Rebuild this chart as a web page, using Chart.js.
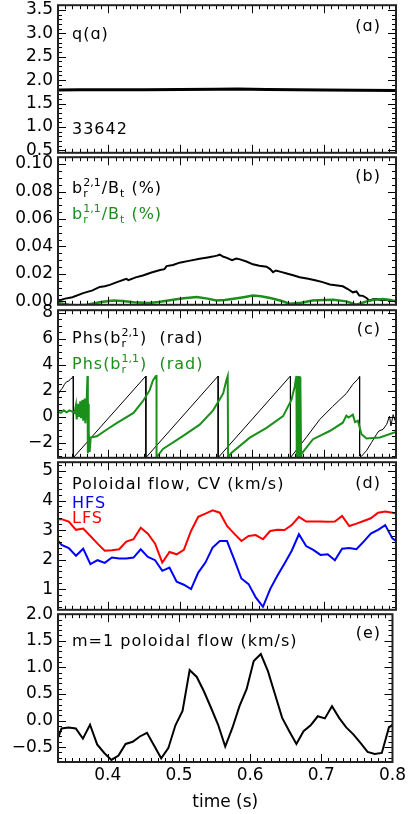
<!DOCTYPE html>
<html>
<head>
<meta charset="utf-8">
<script src="https://cdn.jsdelivr.net/npm/chart.js@4.4.0/dist/chart.umd.min.js"></script>
<style>
  html, body { margin: 0; padding: 0; background: #fff; }
  #wrap { position: relative; width: 409px; height: 814px; overflow: hidden; }
  #wrap canvas { position: absolute; left: 0; }
</style>
</head>
<body>
<div id="wrap">
  <canvas id="panel-a" width="409" height="178" style="top:-10px"></canvas>
  <canvas id="panel-b" width="409" height="178" style="top:142px"></canvas>
  <canvas id="panel-c" width="409" height="178" style="top:295px"></canvas>
  <canvas id="panel-d" width="409" height="178" style="top:447px"></canvas>
  <canvas id="panel-e" width="409" height="215" style="top:599px"></canvas>
</div>
<script>
// shared time axis
const T_MIN = 0.33;
const T_MAX = 0.8;
const timeTicks = [0.4, 0.5, 0.6, 0.7, 0.8];

// (a) edge safety factor
const qTime = [0.33, 0.36, 0.40, 0.45, 0.50, 0.55, 0.58, 0.62, 0.66, 0.70, 0.75, 0.80];
const qVal  = [1.79, 1.795, 1.795, 1.795, 1.80, 1.805, 1.81, 1.80, 1.795, 1.79, 1.785, 1.78];
const aTicks = [0.5, 1.0, 1.5, 2.0, 2.5, 3.0, 3.5];

// (b) mode amplitudes
const b21Time = [
  0.330, 0.335, 0.340, 0.350, 0.365, 0.378, 0.388, 0.395, 0.402, 0.412,
  0.425, 0.428, 0.438, 0.448, 0.460, 0.472, 0.478, 0.481, 0.490, 0.499,
  0.512, 0.527, 0.538, 0.545, 0.551, 0.555, 0.560, 0.564, 0.572, 0.578,
  0.583, 0.592, 0.601, 0.610, 0.620, 0.625, 0.629, 0.633, 0.640, 0.648,
  0.657, 0.666, 0.678, 0.689, 0.698, 0.708, 0.716, 0.726, 0.733, 0.740,
  0.745, 0.749, 0.754, 0.759, 0.763, 0.768, 0.773, 0.779, 0.786, 0.793,
  0.800];
const b21Val = [
  0.0010, 0.0012, 0.0020, 0.0030, 0.0060, 0.0080, 0.0105, 0.0110, 0.0120, 0.0140,
  0.0164, 0.0155, 0.0175, 0.0189, 0.0210, 0.0228, 0.0235, 0.0257, 0.0265, 0.0282,
  0.0295, 0.0311, 0.0320, 0.0326, 0.0333, 0.0340, 0.0325, 0.0319, 0.0300, 0.0312,
  0.0306, 0.0290, 0.0270, 0.0260, 0.0252, 0.0235, 0.0213, 0.0225, 0.0215, 0.0203,
  0.0190, 0.0176, 0.0165, 0.0152, 0.0140, 0.0123, 0.0118, 0.0110, 0.0090, 0.0066,
  0.0072, 0.0042, 0.0040, 0.0025, 0.0005, 0.0015, 0.0017, 0.0008, 0.0012, 0.0005,
  0.0000];
const b11Time = [
  0.330, 0.345, 0.356, 0.370, 0.390, 0.407, 0.420, 0.435, 0.456, 0.470,
  0.490, 0.505, 0.523, 0.538, 0.550, 0.562, 0.572, 0.588, 0.601, 0.612,
  0.625, 0.640, 0.652, 0.668, 0.684, 0.700, 0.713, 0.731, 0.745, 0.759,
  0.770, 0.782, 0.792, 0.800];
const b11Val = [
  -0.0012, -0.0025, -0.0030, -0.0025, -0.0005, 0.0007, 0.0003, -0.0007, -0.0012, -0.0005,
  0.0012, 0.0022, 0.0032, 0.0020, 0.0007, 0.0010, 0.0017, 0.0030, 0.0042, 0.0038,
  0.0025, 0.0005, -0.0017, -0.0010, 0.0007, 0.0010, 0.0012, 0.0000, -0.0025, 0.0000,
  0.0012, 0.0017, 0.0010, 0.0000];
const bTicks = [0.00, 0.02, 0.04, 0.06, 0.08, 0.10];

// (c) mode phases
const phs21Time = [
  0.330, 0.333, 0.336, 0.339, 0.342, 0.345, 0.348, 0.3505, 0.3513, 0.3513,
  0.4522, 0.4522, 0.5527, 0.5527, 0.6532, 0.6532, 0.675, 0.694, 0.712, 0.731,
  0.740, 0.747, 0.7494, 0.7494, 0.752, 0.759, 0.766, 0.773, 0.776, 0.782,
  0.787, 0.791, 0.793, 0.796, 0.800];
const phs21Val = [
  1.7, 2.0, 2.2, 2.5, 2.7, 2.75, 2.95, 3.0, 3.14, -3.14,
  3.14, -3.14, 3.14, -3.14, 3.14, -3.14, -1.6, -0.2, 0.8, 1.8,
  2.5, 2.9, 3.1, -3.0, -3.03, -2.6, -1.97, -1.34, -1.1, -0.96,
  -0.58, 0.05, -0.7, 0.17, -0.5];
const phs11Time = [
  0.330, 0.334, 0.338, 0.342, 0.346, 0.350, 0.353, 0.355, 0.356, 0.358,
  0.359, 0.361, 0.362, 0.364, 0.365, 0.367, 0.368, 0.370, 0.371, 0.3715,
  0.372, 0.3725, 0.373, 0.374, 0.3755, 0.384, 0.400, 0.411, 0.435, 0.448,
  0.4575, 0.462, 0.466, 0.467, 0.467, 0.4717, 0.476, 0.504, 0.527, 0.5457,
  0.5597, 0.564, 0.566, 0.5665, 0.571, 0.5967, 0.620, 0.643, 0.6546, 0.659,
  0.6615, 0.662, 0.663, 0.664, 0.665, 0.666, 0.667, 0.668, 0.6685, 0.6846,
  0.7078, 0.726, 0.731, 0.734, 0.740, 0.743, 0.747, 0.752, 0.759, 0.7775,
  0.800];
const phs11Val = [
  0.4, 0.3, 0.5, 0.35, 0.5, 0.4, 0.3, 0.9, -0.2, 1.0,
  0.0, 1.2, -0.1, 1.3, -0.3, 1.4, -0.5, 1.5, 3.14, -2.8,
  1.0, -2.6, -1.2, -2.7, -1.6, -1.5, -0.9, -0.5, 0.3, 1.2,
  2.05, 2.8, 3.13, 3.14, -3.14, -2.78, -2.47, -1.46, -0.6, 0.5,
  1.8, 2.8, 3.14, -3.14, -2.78, -1.6, -0.85, 0.05, 1.3, 2.3,
  3.14, -3.1, 3.1, -3.14, 3.14, -3.14, 3.1, -3.14, -2.85, -1.72,
  -1.09, -0.45, 0.1, -0.05, 0.17, -0.4, -0.3, -1.34, -1.66, -1.59,
  -1.16];
const cTicks = [-2, 0, 2, 4, 6, 8];

// (d) and (e) CV flow samples
const flowTime = [
  0.330, 0.335, 0.345, 0.355, 0.365, 0.375, 0.385, 0.395, 0.405, 0.415,
  0.425, 0.435, 0.445, 0.455, 0.465, 0.475, 0.485, 0.495, 0.505, 0.515,
  0.525, 0.535, 0.545, 0.555, 0.565, 0.575, 0.585, 0.595, 0.605, 0.615,
  0.625, 0.635, 0.645, 0.655, 0.665, 0.675, 0.685, 0.695, 0.705, 0.715,
  0.725, 0.735, 0.745, 0.755, 0.765, 0.775, 0.785, 0.795, 0.800];
const hfsFlow = [
  2.64, 2.50, 2.39, 2.13, 2.37, 1.85, 1.98, 1.89, 2.07, 2.04,
  2.04, 2.07, 2.35, 2.09, 1.98, 1.62, 1.73, 1.25, 1.15, 1.00,
  1.56, 1.90, 2.41, 2.63, 2.63, 2.01, 1.36, 1.17, 0.72, 0.40,
  1.00, 1.45, 1.87, 2.30, 2.86, 2.46, 2.33, 2.16, 2.18, 1.98,
  2.37, 2.39, 2.35, 2.61, 2.88, 3.01, 3.17, 2.72, 2.63];
const lfsFlow = [
  3.37, 3.37, 3.29, 3.01, 3.05, 2.80, 2.54, 2.30, 2.32, 2.35,
  2.61, 2.69, 3.08, 2.88, 2.54, 1.90, 2.26, 2.18, 2.33, 2.97,
  3.45, 3.56, 3.67, 3.59, 3.14, 2.88, 2.63, 2.80, 2.83, 2.69,
  2.97, 3.01, 3.00, 3.17, 3.45, 3.29, 3.29, 3.29, 3.28, 3.29,
  3.48, 3.14, 3.22, 3.31, 3.40, 3.59, 3.63, 3.59, 3.56];
const m1Flow = [
  -0.33, -0.15, -0.13, -0.15, -0.34, -0.08, -0.45, -0.61, -0.74, -0.66,
  -0.44, -0.40, -0.30, -0.23, -0.47, -0.71, -0.52, -0.09, 0.18, 0.95,
  0.82, 0.55, 0.24, -0.08, -0.49, -0.14, 0.27, 0.59, 1.12, 1.25,
  0.93, 0.49, 0.05, -0.20, -0.44, -0.20, -0.09, 0.08, 0.04, 0.27,
  0.05, -0.13, -0.26, -0.42, -0.59, -0.63, -0.61, -0.13, -0.08];
const dTicks = [1, 2, 3, 4, 5];
const eTicks = [-0.5, 0.0, 0.5, 1.0, 1.5, 2.0];

const GREEN = "#1a8f1a";
const FONT = "'DejaVu Sans', sans-serif";

Chart.defaults.font.family = FONT;
Chart.defaults.color = "#000";

const pairs = (xs, ys) => xs.map((x, i) => ({ x: x, y: ys[i] }));
const minus = (s) => s.replace("-", "\u2212");

// per-panel extras used by the frame plugin (text + minor ticks)
const panelSpecs = {};

// draws text with stacked super/subscripts, IDL style
function drawRich(ctx, x, y, parts, color) {
	ctx.fillStyle = color;
	ctx.textBaseline = "alphabetic";
	ctx.textAlign = "left";
	let cx = x;
	parts.forEach((p) => {
		if (typeof p === "string") {
			ctx.font = "16px " + FONT;
			ctx.letterSpacing = "1px";
			ctx.fillText(p, cx, y);
			cx += ctx.measureText(p).width;
		} else {
			ctx.font = "11px " + FONT;
			ctx.letterSpacing = "0px";
			let w = 0;
			if (p.sup) {
				ctx.fillText(p.sup, cx, y - 7);
				w = Math.max(w, ctx.measureText(p.sup).width);
			}
			if (p.sub) {
				ctx.fillText(p.sub, cx, y + 4);
				w = Math.max(w, ctx.measureText(p.sub).width);
			}
			cx += w + 1;
		}
	});
	ctx.letterSpacing = "0px";
}

const idlFrame = {
	id: "idlFrame",
	afterDraw(chart) {
		const spec = panelSpecs[chart.canvas.id];
		if (!spec) return;
		const { ctx, chartArea: a, scales } = chart;
		const xs = scales.x;
		const ys = scales.y;
		ctx.save();
		ctx.strokeStyle = "#000";
		ctx.lineWidth = 1;
		ctx.beginPath();
		// x ticks, top and bottom, pointing inward
		for (let k = Math.ceil(T_MIN * 100); k <= Math.round(T_MAX * 100); k++) {
			const px = Math.round(xs.getPixelForValue(k / 100)) + 0.5;
			const len = k % 10 === 0 ? 8 : 4;
			ctx.moveTo(px, a.bottom);
			ctx.lineTo(px, a.bottom - len);
			ctx.moveTo(px, a.top);
			ctx.lineTo(px, a.top + len);
		}
		// y ticks, left and right
		const step = spec.minor;
		for (let k = Math.ceil(ys.min / step - 1e-6); k * step <= ys.max + 1e-9; k++) {
			const v = k * step;
			const major = spec.ticks.some((t) => Math.abs(t - v) < step / 10);
			const py = Math.round(ys.getPixelForValue(v)) + 0.5;
			const len = major ? 8 : 4;
			ctx.moveTo(a.left, py);
			ctx.lineTo(a.left + len, py);
			ctx.moveTo(a.right, py);
			ctx.lineTo(a.right - len, py);
		}
		ctx.stroke();
		ctx.lineWidth = 2;
		ctx.strokeStyle = "#222";
		ctx.strokeRect(a.left, a.top, a.right - a.left, a.bottom - a.top);

		spec.texts.forEach((t) => {
			if (t.right) {
				ctx.font = "16px " + FONT;
				ctx.fillStyle = "#000";
				ctx.textAlign = "right";
				ctx.textBaseline = "alphabetic";
				ctx.letterSpacing = "1px";
				ctx.fillText(t.parts[0], t.x, a.top + t.dy);
				ctx.letterSpacing = "0px";
			} else {
				drawRich(ctx, t.x, a.top + t.dy, t.parts, t.color || "#000");
			}
		});
		ctx.restore();
	},
};

function makePanel(id, spec) {
	panelSpecs[id] = spec;
	const isBottom = !!spec.bottom;
	return new Chart(document.getElementById(id), {
		type: "line",
		data: { datasets: spec.datasets },
		options: {
			responsive: false,
			animation: false,
			events: [],
			layout: { padding: { top: 15, bottom: isBottom ? 0 : 15, left: 0, right: 13 } },
			plugins: { legend: { display: false }, tooltip: { enabled: false } },
			elements: { point: { radius: 0 }, line: { tension: 0 } },
			scales: {
				x: {
					type: "linear",
					min: T_MIN,
					max: T_MAX,
					display: isBottom,
					afterBuildTicks: (s) => { s.ticks = timeTicks.map((v) => ({ value: v })); },
					afterFit: (s) => { s.height = isBottom ? 52 : 0; },
					grid: { display: false, drawTicks: false },
					border: { display: false },
					ticks: {
						autoSkip: false,
						maxRotation: 0,
						padding: 3,
						font: { size: 17 },
						callback: (v) => v.toFixed(1),
					},
					title: {
						display: isBottom,
						text: "time (s)",
						font: { size: 17 },
						padding: { top: 0, bottom: 1 },
					},
				},
				y: {
					type: "linear",
					min: spec.min,
					max: spec.max,
					afterBuildTicks: (s) => { s.ticks = spec.ticks.map((v) => ({ value: v })); },
					afterFit: (s) => { s.width = 58; },
					grid: { display: false, drawTicks: false },
					border: { display: false },
					ticks: {
						autoSkip: false,
						padding: 5,
						font: { size: 17 },
						callback: (v) => minus(spec.fmt(v)),
					},
				},
			},
		},
		plugins: [idlFrame],
	});
}

document.addEventListener("DOMContentLoaded", () => {
	makePanel("panel-a", {
		min: 0.45, max: 3.6, ticks: aTicks, minor: 0.1,
		fmt: (v) => v.toFixed(1),
		datasets: [
			{ data: pairs(qTime, qVal), borderColor: "#000", borderWidth: 3 },
		],
		texts: [
			{ x: 72, dy: 34, parts: ["q(\u0251)"] },
			{ x: 72, dy: 129, parts: ["33642"] },
			{ x: 381, dy: 26, parts: ["(\u0251)"], right: true },
		],
	});

	makePanel("panel-b", {
		min: -0.0025, max: 0.105, ticks: bTicks, minor: 0.005,
		fmt: (v) => v.toFixed(2),
		datasets: [
			{ data: pairs(b11Time, b11Val), borderColor: GREEN, borderWidth: 2.5 },
			{ data: pairs(b21Time, b21Val), borderColor: "#000", borderWidth: 2 },
		],
		texts: [
			{ x: 72, dy: 36, parts: ["b", { sup: "2,1", sub: "r" }, "/B", { sub: "t" }, " (%)"] },
			{ x: 72, dy: 62, color: GREEN, parts: ["b", { sup: "1,1", sub: "r" }, "/B", { sub: "t" }, " (%)"] },
			{ x: 381, dy: 24, parts: ["(b)"], right: true },
		],
	});

	makePanel("panel-c", {
		min: -3.15, max: 8.2, ticks: cTicks, minor: 0.5,
		fmt: (v) => String(Math.round(v)),
		datasets: [
			{ data: pairs(phs11Time, phs11Val), borderColor: GREEN, borderWidth: 2 },
			{ data: pairs(phs21Time, phs21Val), borderColor: "#000", borderWidth: 1 },
		],
		texts: [
			{ x: 72, dy: 33, parts: ["Phs(b", { sup: "2,1", sub: "r" }, ")  (rad)"] },
			{ x: 72, dy: 59, color: GREEN, parts: ["Phs(b", { sup: "1,1", sub: "r" }, ")  (rad)"] },
			{ x: 381, dy: 24, parts: ["(c)"], right: true },
		],
	});

	makePanel("panel-d", {
		min: 0.3, max: 5.3, ticks: dTicks, minor: 0.2,
		fmt: (v) => String(Math.round(v)),
		datasets: [
			{ data: pairs(flowTime, lfsFlow), borderColor: "#ff0000", borderWidth: 2 },
			{ data: pairs(flowTime, hfsFlow), borderColor: "#0000ff", borderWidth: 2 },
		],
		texts: [
			{ x: 72, dy: 27, parts: ["Poloidal flow, CV (km/s)"] },
			{ x: 72, dy: 46, color: "#0000ff", parts: ["HFS"] },
			{ x: 72, dy: 61, color: "#ff0000", parts: ["LFS"] },
			{ x: 381, dy: 26, parts: ["(d)"], right: true },
		],
	});

	makePanel("panel-e", {
		min: -0.78, max: 2.0, ticks: eTicks, minor: 0.1, bottom: true,
		fmt: (v) => v.toFixed(1),
		datasets: [
			{ data: pairs(flowTime, m1Flow), borderColor: "#000", borderWidth: 2 },
		],
		texts: [
			{ x: 72, dy: 32, parts: ["m=1 poloidal flow (km/s)"] },
			{ x: 381, dy: 24, parts: ["(e)"], right: true },
		],
	});
});
</script>
</body>
</html>
